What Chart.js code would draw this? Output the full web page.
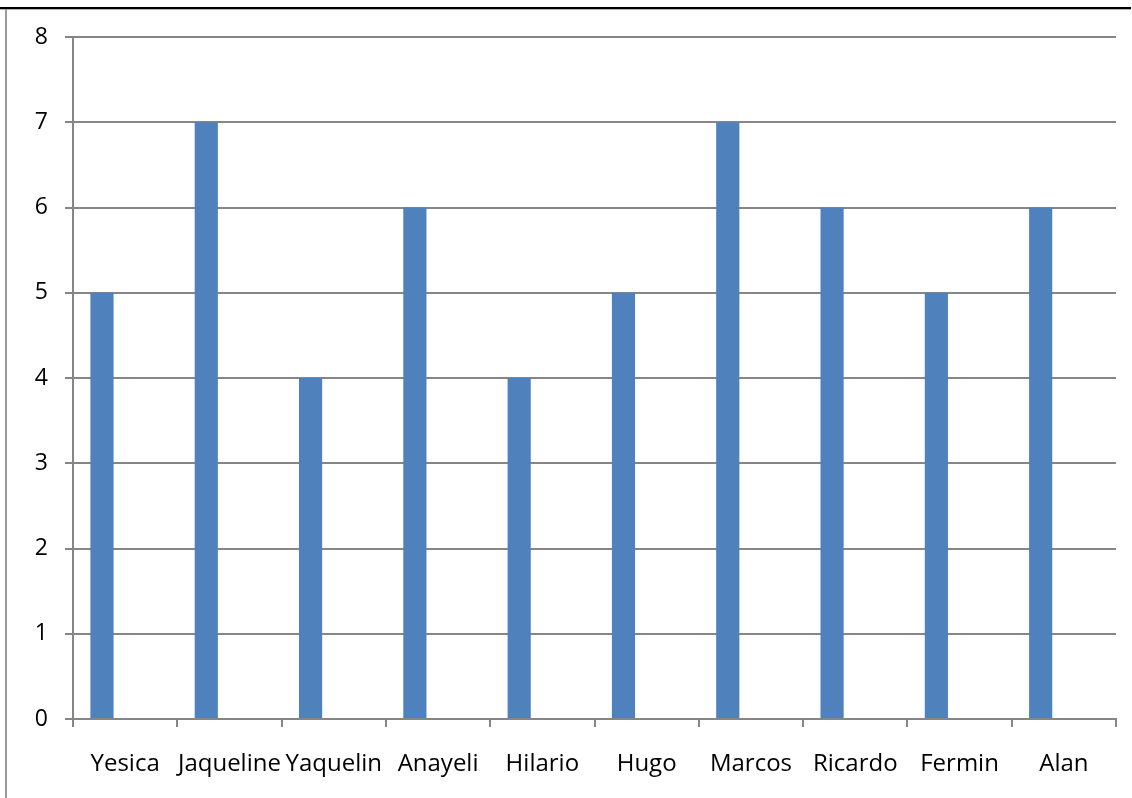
<!DOCTYPE html>
<html>
<head>
<meta charset="utf-8">
<title>Calificaciones</title>
<script src="https://cdn.jsdelivr.net/npm/chart.js@4.4.1/dist/chart.umd.min.js"></script>
<style>
  html, body { margin: 0; padding: 0; background: #ffffff; }
  #wrap { position: relative; width: 1132px; height: 798px; }
</style>
</head>
<body>
<div id="wrap"><canvas id="chart" width="1132" height="798"></canvas></div>
<script>
// Names along the category axis
const names = ['Yesica', 'Jaqueline', 'Yaquelin', 'Anayeli', 'Hilario', 'Hugo', 'Marcos', 'Ricardo', 'Fermin', 'Alan'];
// First series (the only one with values)
const serie1 = [5, 7, 4, 6, 4, 5, 7, 6, 5, 6];
// Two more series present in the sheet but left empty
const serie2 = [null, null, null, null, null, null, null, null, null, null];
const serie3 = [null, null, null, null, null, null, null, null, null, null];
// Value axis range
const yMin = 0;
const yMax = 8;
const yStep = 1;

const axisGray = '#868686';
const barBlue = '#4F81BD';
const fontFamily = '"Open Sans", Lato, sans-serif';

// Frame lines around the sheet area
const framePlugin = {
  id: 'sheetFrame',
  beforeDraw(chart) {
    const ctx = chart.ctx;
    ctx.save();
    ctx.fillStyle = '#ffffff';
    ctx.fillRect(0, 0, chart.width, chart.height);
    ctx.fillStyle = '#000000';
    ctx.fillRect(0, 7, 1131, 2);
    ctx.fillStyle = '#b4b4b4';
    ctx.fillRect(0, 9, 1131, 1);
    ctx.fillStyle = '#9a9a9a';
    ctx.fillRect(5, 9, 2, chart.height - 9);
    ctx.restore();
  }
};

new Chart(document.getElementById('chart'), {
  type: 'bar',
  data: {
    labels: names,
    datasets: [
      { label: 'Serie 1', data: serie1, backgroundColor: barBlue },
      { label: 'Serie 2', data: serie2, backgroundColor: '#C0504D' },
      { label: 'Serie 3', data: serie3, backgroundColor: '#9BBB59' }
    ]
  },
  options: {
    responsive: false,
    animation: false,
    layout: { padding: { left: 0, top: 37, right: 16, bottom: 0 } },
    datasets: {
      bar: { categoryPercentage: 3 / 4.5, barPercentage: 1, borderWidth: 0 }
    },
    plugins: {
      legend: { display: false },
      tooltip: { enabled: false },
      title: { display: false }
    },
    scales: {
      x: {
        afterFit(scale) { scale.height = 79; },
        grid: {
          offset: true,
          drawOnChartArea: false,
          drawTicks: true,
          tickLength: 8,
          color: axisGray,
          lineWidth: 2
        },
        border: { display: true, color: axisGray, width: 2 },
        ticks: {
          color: '#000000',
          padding: 23,
          maxRotation: 0,
          autoSkip: false,
          font: { family: fontFamily, size: 24 }
        }
      },
      y: {
        min: yMin,
        max: yMax,
        afterFit(scale) { scale.width = 73; },
        grid: {
          color: axisGray,
          lineWidth: 2,
          tickLength: 8,
          drawTicks: true
        },
        border: { display: true, color: axisGray, width: 2 },
        ticks: {
          stepSize: yStep,
          color: '#000000',
          padding: 17,
          font: { family: fontFamily, size: 23 }
        }
      }
    }
  },
  plugins: [framePlugin]
});
</script>
</body>
</html>
